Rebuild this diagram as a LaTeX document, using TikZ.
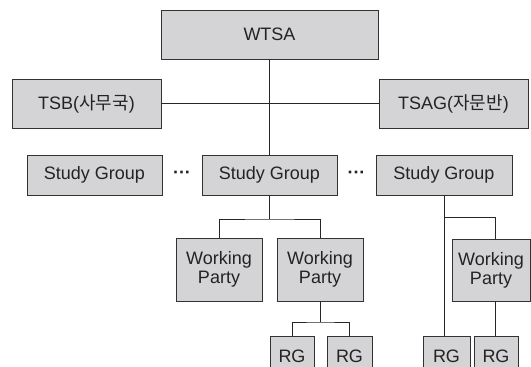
\documentclass[tikz,border=0pt]{standalone}
\usepackage{fontspec}
\setmainfont{Liberation Sans}
\newfontfamily\cjk{Noto Sans CJK KR}
\definecolor{boxfill}{RGB}{212,212,214}
\definecolor{boxline}{RGB}{50,50,50}
\definecolor{txt}{RGB}{35,35,35}
\begin{document}
\begin{tikzpicture}[x=1pt,y=-1pt,
  orgbox/.style={draw=boxline,fill=boxfill,line width=0.9pt,inner sep=0pt,
    align=center,text=txt,font=\fontsize{18}{20}\selectfont},
  conn/.style={draw=black!85,line width=0.9pt},
  dotsnode/.style={inner sep=0pt,text=txt,font=\bfseries\fontsize{18}{18}\selectfont}]
\useasboundingbox (0,0) rectangle (531,367);
\clip (0,0) rectangle (531,367);
\node[orgbox,minimum width=217,minimum height=49] (wtsa) at (269.5,34.5) {WTSA};
\node[orgbox,minimum width=149,minimum height=49] (tsb) at (86.5,103.5) {TSB({\cjk 사무국})};
\node[orgbox,minimum width=149,minimum height=49] (tsag) at (453.5,103.5) {TSAG({\cjk 자문반})};
\node[orgbox,minimum width=135,minimum height=40] (sg1) at (94.5,175) {Study Group};
\node[orgbox,minimum width=135,minimum height=40] (sg2) at (269.5,175) {Study Group};
\node[orgbox,minimum width=136,minimum height=40] (sg3) at (444,175) {Study Group};
\node[dotsnode] (d1) at (182,175) {···};
\node[dotsnode] (d2) at (356.5,175) {···};
\node[orgbox,minimum width=86,minimum height=63] (wp1) at (219,269.5) {Working\\[-1pt]Party};
\node[orgbox,minimum width=86,minimum height=63] (wp2) at (320,269.5) {Working\\[-1pt]Party};
\node[orgbox,minimum width=78,minimum height=62] (wp3) at (491,270) {Working\\[-1pt]Party};
\node[orgbox,minimum width=44,minimum height=40] (rg1) at (292,356) {RG};
\node[orgbox,minimum width=45,minimum height=40] (rg2) at (349.5,356) {RG};
\node[orgbox,minimum width=47,minimum height=40] (rg3) at (446.5,356) {RG};
\node[orgbox,minimum width=44,minimum height=40] (rg4) at (496,356) {RG};
% connectors
\coordinate (b2) at (269.5,219);
\coordinate (b3) at (444,217);
\coordinate (w3top) at (495,239);
\coordinate (w3bot) at (495,301);
\coordinate (b4) at (320,322);
\draw[conn] (tsb.east) -- (tsag.west);
\draw[conn] (wtsa.south) -- (sg2.north);
\draw[conn] (sg2.south) -- (b2);
\draw[conn] (wp1.north) |- (b2) -| (wp2.north);
\draw[conn] (sg3.south) -- (sg3.south |- rg3.north);
\draw[conn] (b3) -| (w3top);
\draw[conn] (w3bot) -- (w3bot |- rg4.north);
\draw[conn] (wp2.south) -- (b4);
\draw[conn] (rg1.north) |- (b4) -| (rg2.north);
\end{tikzpicture}
\end{document}
